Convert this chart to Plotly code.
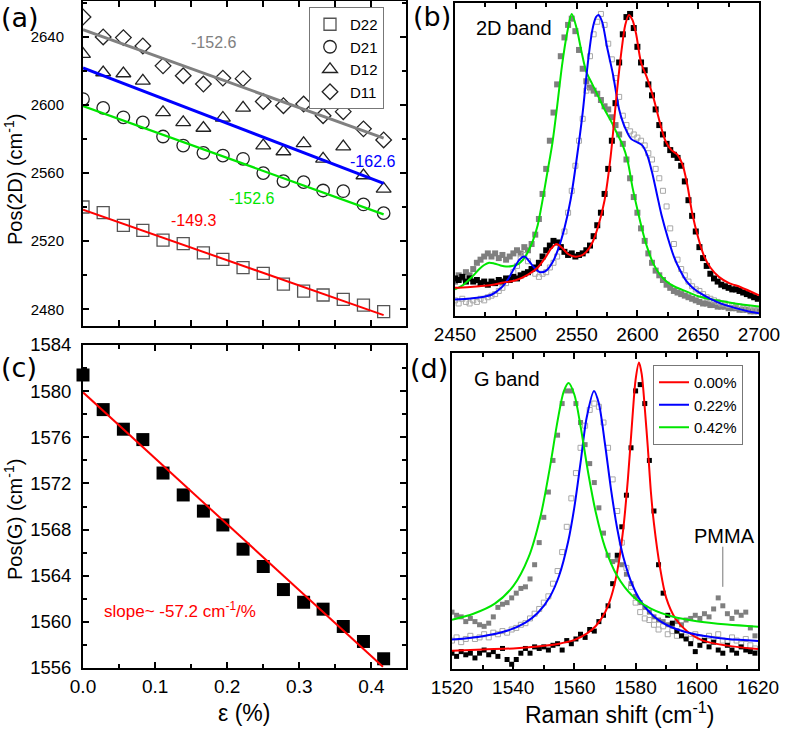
import plotly.graph_objects as go

FONT = "Liberation Sans, Arial, sans-serif"
FW, FH = 787, 730

# ---------------- panel (a): Pos(2D) vs strain ----------------
strain = [0.0, 0.028, 0.056, 0.083, 0.111, 0.139, 0.167, 0.194, 0.222, 0.250,
          0.278, 0.306, 0.333, 0.361, 0.389, 0.417]
pos2d_D22 = [2540.1, 2536.8, 2529.3, 2526.4, 2520.6, 2518.6, 2513.1, 2509.3, 2504.5, 2501.1,
             2494.8, 2490.7, 2488.4, 2485.8, 2482.5, 2478.6]
pos2d_D21 = [2603.5, 2598.3, 2592.8, 2589.8, 2581.5, 2576.2, 2571.9, 2570.3, 2568.4, 2560.0,
             2555.3, 2554.7, 2549.8, 2549.4, 2541.6, 2536.5]
pos2d_D12 = [2629.9, 2619.1, 2618.5, 2614.2, 2595.7, 2589.8, 2586.5, 2592.4, 2598.3, 2576.2,
             2572.7, 2577.5, 2568.4, 2575.6, 2558.6, 2550.8]
pos2d_D11 = [2651.7, 2640.0, 2639.6, 2634.7, 2623.0, 2617.2, 2612.3, 2615.8, 2615.5, 2602.1,
             2599.6, 2600.6, 2593.7, 2596.1, 2586.0, 2579.5]
fit_x = [0.0, 0.417]
fit_D22 = [2538.5, 2476.6]
fit_D21 = [2599.4, 2535.8]
fit_D12 = [2621.8, 2554.0]
fit_D11 = [2644.3, 2580.6]
slope_labels = ["-149.3", "-152.6", "-162.6", "-152.6"]

# ---------------- panel (c): Pos(G) vs strain ----------------
posG = [1581.4, 1578.4, 1576.7, 1575.8, 1572.9, 1571.0, 1569.6, 1568.4, 1566.3, 1564.8,
        1562.8, 1561.7, 1561.1, 1559.6, 1558.3, 1556.8]
fitG_x = [0.0, 0.416]
fitG_y = [1579.9, 1556.1]

# ---------------- panel (b): 2D band spectra ----------------
b_shift = [2450, 2453, 2456, 2459, 2462, 2465, 2468, 2471, 2474, 2477, 2480, 2483, 2486, 2489,
           2492, 2495, 2498, 2501, 2504, 2507, 2510, 2513, 2516, 2519, 2522, 2525, 2528, 2531,
           2534, 2537, 2540, 2543, 2546, 2549, 2552, 2555, 2558, 2561, 2564, 2567, 2570, 2573,
           2576, 2579, 2582, 2585, 2588, 2591, 2594, 2597, 2600, 2603, 2606, 2609, 2612, 2615,
           2618, 2621, 2624, 2627, 2630, 2633, 2636, 2639, 2642, 2645, 2648, 2651, 2654, 2657,
           2660, 2663, 2666, 2669, 2672, 2675, 2678, 2681, 2684, 2687, 2690, 2693, 2696, 2699]
b_data_000 = [12, 11.5, 12.5, 11, 12, 11, 11.5, 10.5, 11, 10,
              11, 10.5, 11.5, 11, 12, 11.5, 12.5, 12, 13, 13.5,
              14, 15, 15.5, 17, 19, 21, 22.5, 24, 23.5, 22,
              20.5, 19.5, 20, 19, 19.5, 20, 21, 22.5, 25.5, 29,
              33, 39, 47, 56, 68, 81, 90, 95.5, 96.5, 92,
              86, 81, 78.5, 74, 70.5, 66, 61, 58, 55, 53,
              51.5, 50.5, 48, 43, 37, 32, 27, 22, 18.5, 16,
              13.5, 12, 11, 10, 9.5, 9, 8.5, 8.5, 8, 7.5,
              7, 6.5, 6, 5.5]
b_data_022 = [5, 4, 5.5, 4.5, 4, 5, 4.5, 5.5, 5, 6,
              6.5, 7, 8, 9, 10.5, 12, 14, 16, 18.5, 19.5,
              17.5, 15, 13.5, 12.5, 13.5, 14, 15.5, 17, 19, 22,
              27, 33, 40, 48, 56, 63, 72, 83, 90, 94,
              96.5, 93, 87, 82, 76, 70, 64, 61, 59, 58,
              57, 56, 54.5, 52, 50, 47, 44, 40, 35, 28,
              23, 18, 15, 13, 11, 9.5, 8.5, 8, 7, 6,
              5.5, 5, 4.5, 4, 4, 3.5, 3.5, 3, 3, 2.5,
              2.5, 2, 2, 2]
b_data_042 = [11, 13, 12, 14, 13, 15, 17, 18, 19, 20,
              19, 20, 18.5, 19.5, 18, 19, 20, 21, 20, 22,
              21, 23, 26, 31, 39, 47, 56, 65, 74, 83,
              89, 93, 95, 91, 85, 79, 75, 73, 72, 71,
              69, 67, 66, 63.5, 61, 58, 55, 50, 44, 38,
              33, 28, 24, 20, 17, 14.5, 13, 11.5, 10, 9,
              8, 7.5, 7, 6.5, 6, 5.5, 5, 4.5, 4, 4,
              3.5, 3.5, 3, 3, 3, 2.5, 2.5, 2.5, 2, 2,
              2, 1.5, 1.5, 1.5]
b_fit_000_x = [2450, 2460, 2470, 2480, 2490, 2500, 2510, 2518, 2524, 2529, 2533.5, 2538, 2543,
               2548, 2553, 2558, 2563, 2568, 2573, 2578, 2583, 2587, 2590, 2593, 2596, 2599,
               2603, 2608, 2613, 2618, 2623, 2628, 2633, 2637, 2641, 2645, 2650, 2655, 2660,
               2667, 2675, 2685, 2700]
b_fit_000_y = [9.0, 9.2, 9.5, 9.9, 10.7, 11.4, 13.2, 15.5, 18.5, 21.5, 23.0, 21.8, 19.8,
               19.0, 19.2, 20.5, 23.5, 29, 37, 51, 71, 85, 93, 96.2, 94.5, 90,
               81, 76, 70, 62.5, 56, 53, 51.5, 48.5, 42, 33, 25, 19, 15.5,
               12.5, 10.6, 9.2, 6.6]
b_fit_022_x = [2450, 2460, 2470, 2480, 2488, 2494, 2499, 2503, 2507, 2511, 2515, 2520, 2525,
               2530, 2535, 2540, 2545, 2550, 2555, 2559, 2563, 2566, 2568, 2571, 2575, 2580,
               2585, 2590, 2595, 2600, 2604, 2608, 2612, 2616, 2620, 2625, 2630, 2635, 2640,
               2645, 2650, 2660, 2670, 2680, 2690, 2700]
b_fit_022_y = [5.3, 5.5, 5.9, 6.8, 9.0, 12.0, 15.5, 18.0, 19.0, 17.5, 15.5, 14.0, 14.5,
               17.0, 21.5, 28, 37, 50, 65, 80, 91.5, 95.5, 96.2, 94, 86, 77,
               66, 60, 56.5, 55.5, 54.5, 51.5, 46, 39, 32, 25, 19, 14.7, 11.3,
               9.2, 7.7, 5.5, 3.8, 2.6, 1.6, 0.9]
b_fit_042_x = [2450, 2457, 2464, 2470, 2474, 2478, 2482, 2487, 2492, 2497, 2502, 2506, 2510,
               2514, 2518, 2522, 2526, 2530, 2534, 2538, 2542, 2546, 2550, 2554, 2558, 2563,
               2568, 2573, 2578, 2583, 2588, 2592, 2596, 2600, 2604, 2608, 2613, 2618, 2624,
               2630, 2638, 2650, 2665, 2680, 2700]
b_fit_042_y = [8.5, 10.0, 12.5, 15.0, 16.3, 17.0, 16.8, 16.2, 15.8, 16.0, 16.6, 18.0, 20.5,
               24.0, 29.0, 37.0, 46.0, 55.0, 67.0, 80.0, 90.0, 96.5, 92.0, 84.5, 78.0, 74.0,
               70.0, 66.0, 62.5, 58.5, 54.5, 49.5, 41.0, 34.0, 27.5, 22.0, 16.8, 13.5, 11.0,
               9.5, 8.2, 6.3, 5.0, 4.0, 3.0]

# ---------------- panel (d): G band spectra ----------------
d_shift = [1520.0, 1521.5, 1523.0, 1524.5, 1526.0, 1527.5, 1529.0, 1530.5, 1532.0, 1533.5,
           1535.0, 1536.5, 1538.0, 1539.5, 1541.0, 1542.5, 1544.0, 1545.5, 1547.0, 1548.5,
           1550.0, 1551.5, 1553.0, 1554.5, 1556.0, 1557.5, 1559.0, 1560.5, 1562.0, 1563.5,
           1565.0, 1566.5, 1568.0, 1569.5, 1571.0, 1572.5, 1574.0, 1575.5, 1577.0, 1578.5,
           1580.0, 1581.5, 1583.0, 1584.5, 1586.0, 1587.5, 1589.0, 1590.5, 1592.0, 1593.5,
           1595.0, 1596.5, 1598.0, 1599.5, 1601.0, 1602.5, 1604.0, 1605.5, 1607.0, 1608.5,
           1610.0, 1611.5, 1613.0, 1614.5, 1616.0, 1617.5, 1619.0]
d_data_000 = [5, 4, 5.5, 4.5, 5, 3.5, 5, 6, 4.5, 5.5,
              4, 6.5, 3, 1.5, 3, 5, 6.5, 5, 7, 6.5,
              7, 6, 7.5, 8, 6, 9, 8, 9.5, 11, 10,
              12.5, 12, 15, 17, 20, 27, 36, 45, 55, 70,
              88, 90, 84, 66, 50, 33, 24, 17, 14.5, 12,
              10.5, 9.5, 8, 5.5, 7.5, 9, 7, 8.5, 6, 5,
              7.5, 6, 5, 7, 6, 5.5, 5]
d_data_022 = [9, 10, 8.5, 9.5, 10.5, 9.5, 10, 11, 10, 11.5,
              11, 12, 11.5, 12.5, 13, 14, 14.5, 16, 17.5, 19,
              21, 23, 27, 31, 37, 45, 54, 62, 70, 77,
              82, 84, 83, 78, 70, 60, 50, 40, 32, 26,
              21, 18, 16, 15.5, 14, 12.5, 13.5, 11, 12, 10.5,
              11.5, 10, 9.5, 11, 10, 9, 10.5, 9.5, 11, 9,
              8.5, 10, 9, 8, 9.5, 7.5, 6.5]
d_data_042 = [18, 17, 16.5, 15, 16, 15, 14, 13.5, 14.5, 16.5,
              19.5, 20.5, 21, 22.5, 24, 25.5, 26, 28.5, 33, 40,
              48, 56, 66, 74, 84, 88, 88, 84, 78, 71,
              65, 59, 51, 43, 36, 34, 34.5, 33, 30, 27,
              23, 21, 19.5, 18, 16.5, 15.5, 15, 14, 13.5, 15,
              14, 15.5, 16, 17, 16, 17.5, 16.5, 19, 22.5, 20,
              17.5, 16, 18, 17, 18, 13, 10.5]
d_fit_000_x = [1520, 1530, 1540, 1548, 1555, 1560, 1564, 1567, 1570, 1572, 1574, 1576, 1577.5,
               1579, 1580, 1581.1, 1582, 1583, 1584, 1585, 1586, 1588, 1590, 1593, 1597, 1602,
               1610, 1620]
d_fit_000_y = [5.8, 6.2, 6.5, 7.1, 8.0, 9.2, 11.2, 13.6, 17.9, 22.8, 30.9, 44.6, 60.3,
               80.0, 91.6, 97.0, 93.3, 82.6, 70, 56, 46, 32, 22.5, 16, 11.8, 9,
               7.4, 6.3]
d_fit_022_x = [1520, 1530, 1538, 1544, 1548, 1552, 1555, 1558, 1560, 1562, 1564, 1566.4, 1568,
               1570, 1572, 1574, 1576, 1579, 1582, 1586, 1590, 1596, 1602, 1610, 1620]
d_fit_022_y = [9.3, 10.4, 12.1, 14.7, 17.7, 22.9, 29.5, 40.5, 51.3, 65.2, 79.5, 88.0, 84.0,
               71.2, 56.6, 44.4, 35.4, 26.5, 21.0, 16.6, 14.0, 11.8, 10.5, 9.5, 8.9]
d_fit_042_x = [1520, 1527, 1534, 1540, 1545, 1549, 1552, 1554.5, 1556.5, 1558.1, 1560, 1562,
               1564.5, 1567, 1570, 1574, 1579, 1585, 1592, 1600, 1610, 1620]
d_fit_042_y = [15.6, 17.5, 20.7, 26.2, 35.3, 48.6, 63.8, 78.5, 87.8, 90.5, 86.8, 76.9,
               62.1, 49.5, 38.5, 29.4, 23.1, 19.1, 16.6, 15.1, 14.05, 13.4]
strain_labels = ["0.00%", "0.22%", "0.42%"]

RED, BLUE, GREEN, GRAY = "#ff0000", "#0000ff", "#00e600", "#808080"


def px(p):   # window pixel -> paper x
    return p / FW


def py(p):   # window pixel -> paper y
    return 1 - p / FH


def dom_x(a, b):
    return [px(a), px(b)]


def dom_y(top, bottom):
    return [py(bottom), py(top)]


fig = go.Figure()

# ---- (a) markers
sym_specs = [("D22", pos2d_D22, "square-open", 12, "#555555"),
             ("D21", pos2d_D21, "circle-open", 12.5, "#222222"),
             ("D12", pos2d_D12, "triangle-up-open", 13, "#222222"),
             ("D11", pos2d_D11, "diamond-open", 12, "#222222")]
for name, vals, sym, sz, col in sym_specs:
    fig.add_trace(go.Scatter(x=strain, y=vals, mode="markers", name=name,
                             marker=dict(symbol=sym, size=sz, color=col, line=dict(width=1.3, color=col)),
                             xaxis="x", yaxis="y", legend="legend", showlegend=True))
for vals, col, w in [(fit_D22, RED, 2), (fit_D21, GREEN, 2.3), (fit_D12, BLUE, 3), (fit_D11, GRAY, 3)]:
    fig.add_trace(go.Scatter(x=fit_x, y=vals, mode="lines", line=dict(color=col, width=w),
                             xaxis="x", yaxis="y", showlegend=False, hoverinfo="skip"))

# ---- (c)
fig.add_trace(go.Scatter(x=strain, y=posG, mode="markers", cliponaxis=False,
                         marker=dict(symbol="square", size=13, color="black"),
                         xaxis="x3", yaxis="y3", showlegend=False))
fig.add_trace(go.Scatter(x=fitG_x, y=fitG_y, mode="lines", line=dict(color=RED, width=2),
                         xaxis="x3", yaxis="y3", showlegend=False))

# ---- (b)
fig.add_trace(go.Scatter(x=b_shift, y=b_data_042, mode="markers",
                         marker=dict(symbol="square", size=6, color="#7f7f7f"),
                         xaxis="x2", yaxis="y2", showlegend=False))
fig.add_trace(go.Scatter(x=b_shift, y=b_data_022, mode="markers",
                         marker=dict(symbol="square-open", size=5, color="#a8a8a8", line=dict(width=1)),
                         xaxis="x2", yaxis="y2", showlegend=False))
fig.add_trace(go.Scatter(x=b_shift, y=b_data_000, mode="markers",
                         marker=dict(symbol="square", size=6, color="black"),
                         xaxis="x2", yaxis="y2", showlegend=False))
for xs, ys, col in [(b_fit_042_x, b_fit_042_y, GREEN), (b_fit_022_x, b_fit_022_y, BLUE),
                    (b_fit_000_x, b_fit_000_y, RED)]:
    fig.add_trace(go.Scatter(x=xs, y=ys, mode="lines", line=dict(color=col, width=2, shape="spline", smoothing=0.8),
                             xaxis="x2", yaxis="y2", showlegend=False))

# ---- (d)
fig.add_trace(go.Scatter(x=d_shift, y=d_data_042, mode="markers",
                         marker=dict(symbol="square", size=5, color="#7f7f7f"),
                         xaxis="x4", yaxis="y4", showlegend=False))
fig.add_trace(go.Scatter(x=d_shift, y=d_data_022, mode="markers",
                         marker=dict(symbol="square-open", size=5, color="#a8a8a8", line=dict(width=1)),
                         xaxis="x4", yaxis="y4", showlegend=False))
fig.add_trace(go.Scatter(x=d_shift, y=d_data_000, mode="markers",
                         marker=dict(symbol="square", size=5, color="black"),
                         xaxis="x4", yaxis="y4", showlegend=False))
for xs, ys, col, lab in [(d_fit_000_x, d_fit_000_y, RED, strain_labels[0]),
                         (d_fit_022_x, d_fit_022_y, BLUE, strain_labels[1]),
                         (d_fit_042_x, d_fit_042_y, GREEN, strain_labels[2])]:
    fig.add_trace(go.Scatter(x=xs, y=ys, mode="lines", name=lab,
                             line=dict(color=col, width=2, shape="spline", smoothing=0.8),
                             xaxis="x4", yaxis="y4", legend="legend2", showlegend=True))

axis_common = dict(showline=True, linecolor="black", linewidth=2, showgrid=False, zeroline=False,
                   ticks="inside", tickcolor="black", ticklen=6, tickwidth=1.5, mirror="ticks",
                   automargin=False)
box_only = dict(showline=True, linecolor="black", linewidth=2, showgrid=False, zeroline=False,
                ticks="", showticklabels=False, mirror=True, automargin=False)

fig.update_layout(
    template="none",
    width=FW, height=FH, margin=dict(l=0, r=0, t=0, b=0, pad=0, autoexpand=False),
    paper_bgcolor="white", plot_bgcolor="white",
    font=dict(family=FONT, color="black"),
    xaxis=dict(domain=dom_x(83, 406), anchor="y", range=[0, 0.448], dtick=0.1, tick0=0,
               showticklabels=False,
               minor=dict(dtick=0.05, ticks="inside", ticklen=6, tickcolor="black"), **axis_common),
    yaxis=dict(domain=dom_y(1, 326), anchor="x", range=[2470.2, 2661.1], dtick=40, tick0=2480,
               tickfont=dict(size=15), ticklabelstandoff=14,
               minor=dict(dtick=20, ticks="inside", ticklen=4, tickcolor="black"), **axis_common),
    xaxis2=dict(domain=dom_x(455, 759), anchor="y2", range=[2450, 2700], dtick=50, tick0=2450,
                tickfont=dict(size=19), ticklabelstandoff=0,
                minor=dict(dtick=25, ticks="inside", ticklen=4, tickcolor="black"), **axis_common),
    yaxis2=dict(domain=dom_y(3, 316), anchor="x2", range=[0, 100], **box_only),
    xaxis3=dict(domain=dom_x(83, 406), anchor="y3", range=[0, 0.448], dtick=0.1, tick0=0,
                tickformat=".1f", tickfont=dict(size=19), ticklabelstandoff=0,
                minor=dict(dtick=0.05, ticks="inside", ticklen=4, tickcolor="black"), **axis_common),
    yaxis3=dict(domain=dom_y(345, 668), anchor="x3", range=[1556, 1584], dtick=4, tick0=1556,
                tickfont=dict(size=18.5), ticklabelstandoff=6,
                minor=dict(dtick=2, ticks="inside", ticklen=4, tickcolor="black"), **axis_common),
    xaxis4=dict(domain=dom_x(452, 758), anchor="y4", range=[1520, 1620], dtick=20, tick0=1520,
                tickfont=dict(size=19), ticklabelstandoff=0,
                minor=dict(dtick=10, ticks="inside", ticklen=4, tickcolor="black"), **axis_common),
    yaxis4=dict(domain=dom_y(353, 669), anchor="x4", range=[0, 100], **box_only),
    legend=dict(x=px(309), y=py(7), xanchor="left", yanchor="top", bgcolor="white",
                bordercolor="#777777", borderwidth=1, font=dict(size=15, family=FONT),
                tracegroupgap=0, itemwidth=30),
    legend2=dict(x=px(653), y=py(365), xanchor="left", yanchor="top", bgcolor="white",
                 bordercolor="#777777", borderwidth=1, font=dict(size=15, family=FONT),
                 tracegroupgap=0, itemwidth=30),
)

ann = []


def paper_text(txt, cx, cy, size, angle=0, family=None, color="black"):
    f = dict(size=size, color=color)
    if family:
        f["family"] = family
    ann.append(dict(text=txt, x=px(cx), y=py(cy), xref="paper", yref="paper", showarrow=False,
                    xanchor="center", yanchor="middle", textangle=angle, font=f))


# panel labels
for txt, cx, cy in [("(a)", 20, 17.5), ("(b)", 431.5, 16.5), ("(c)", 18.5, 367.5), ("(d)", 429, 368.5)]:
    paper_text(txt, cx, cy, 27, family="DejaVu Sans")
# axis titles
paper_text("Pos(2D) (cm<sup>-1</sup>)", 13, 180, 20, angle=-90)
paper_text("Pos(G) (cm<sup>-1</sup>)", 13, 520, 20, angle=-90)
paper_text("ε (%)", 244, 713, 23)
paper_text("Raman shift (cm<sup>-1</sup>)", 619, 713, 23)

# slope labels in (a)
for txt, x, y, col in [(slope_labels[3], 0.181, 2636.7, GRAY), (slope_labels[2], 0.402, 2566.8, BLUE),
                       (slope_labels[1], 0.234, 2545.0, GREEN), (slope_labels[0], 0.153, 2532.3, RED)]:
    ann.append(dict(text=txt, x=x, y=y, xref="x", yref="y", showarrow=False,
                    xanchor="center", yanchor="middle", font=dict(size=16, color=col)))
# (c) slope
ann.append(dict(text="slope~ -57.2 cm<sup>-1</sup>/%", x=0.026, y=1561.0, xref="x3", yref="y3",
                xanchor="left", yanchor="middle", showarrow=False, font=dict(size=17, color=RED)))
# band labels
ann.append(dict(text="2D band", x=2465.4, y=92, xref="x2", yref="y2", xanchor="left", yanchor="middle",
                showarrow=False, font=dict(size=20)))
ann.append(dict(text="G band", x=1526.4, y=91.8, xref="x4", yref="y4", xanchor="left", yanchor="middle",
                showarrow=False, font=dict(size=20)))
ann.append(dict(text="PMMA", x=1609.2, y=42.1, xref="x4", yref="y4", showarrow=False,
                xanchor="center", yanchor="middle", font=dict(size=20)))
fig.update_layout(annotations=ann)
fig.add_shape(type="line", x0=1608.5, x1=1608.5, y0=26, y1=38.7, xref="x4", yref="y4",
              line=dict(color="#777777", width=1))

# remove the default page margin so the figure starts at the window's top-left corner
fig.write_html("out.html", config={"displayModeBar": False},
               post_script="document.body.style.margin='0px';")
